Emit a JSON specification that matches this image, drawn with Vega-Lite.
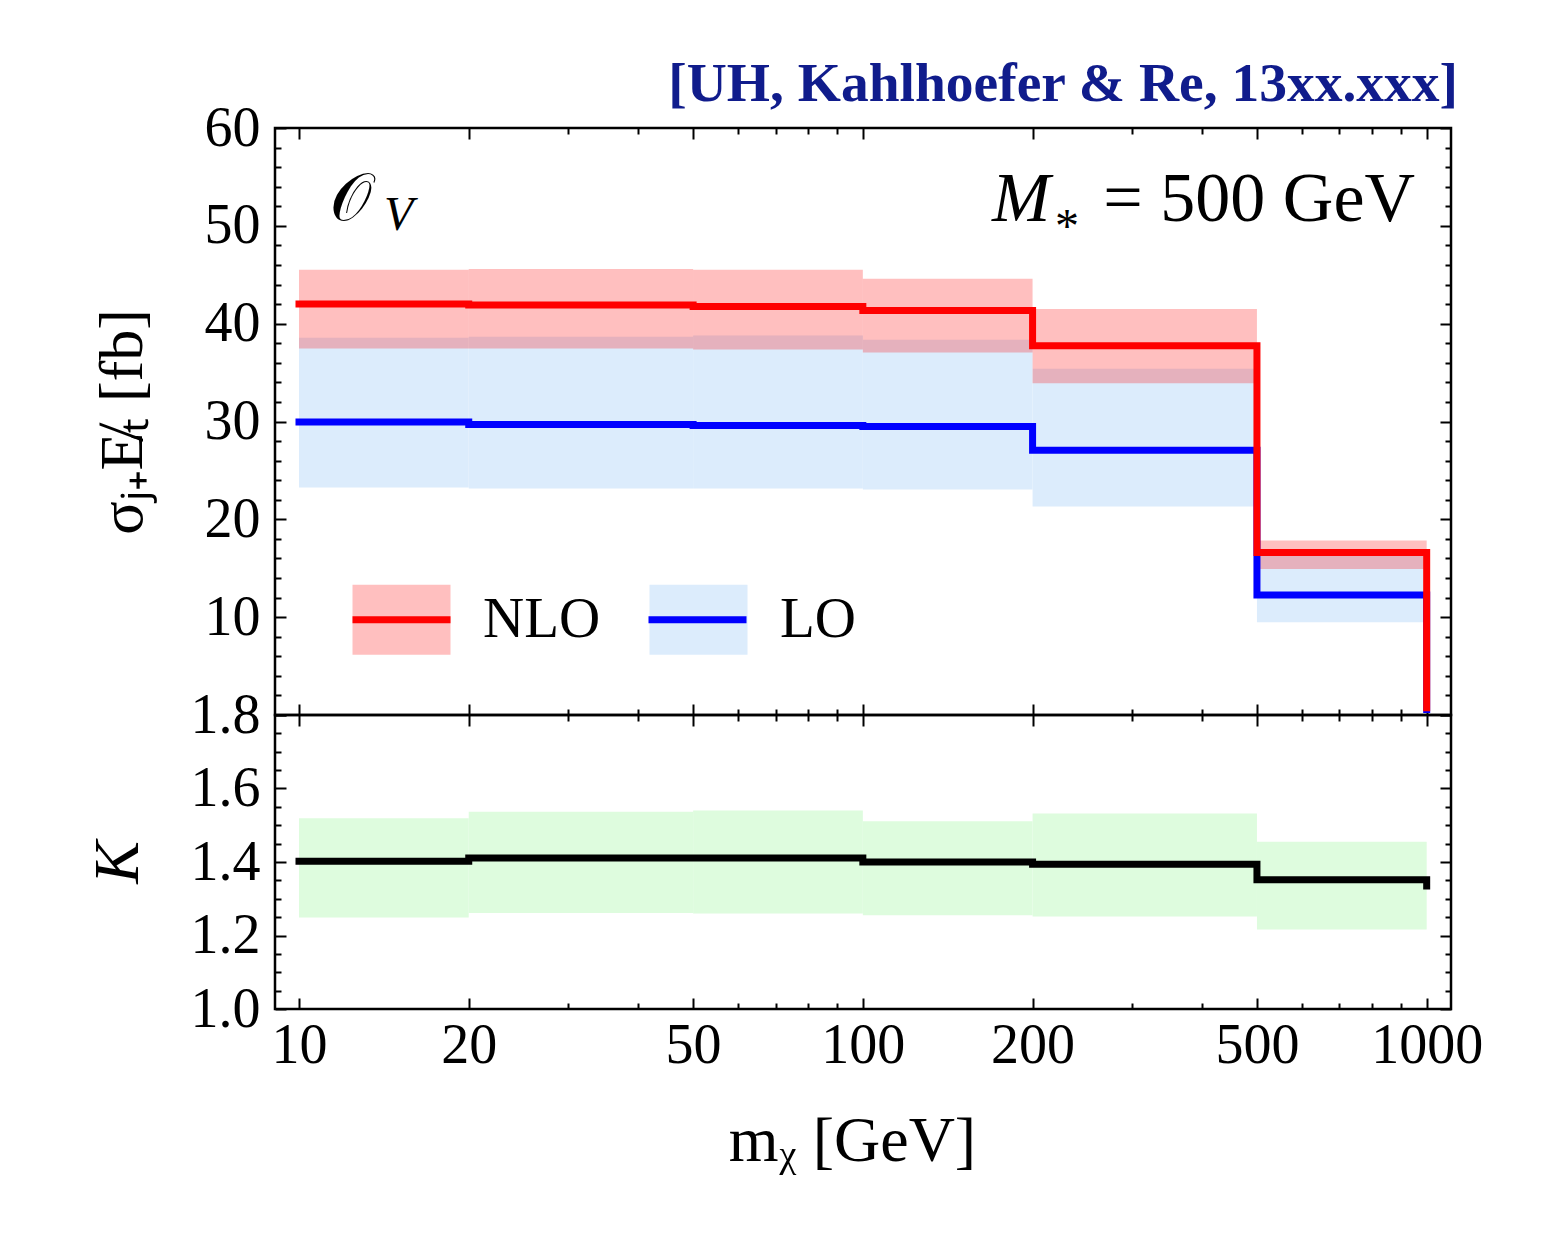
{
  "$schema": "https://vega.github.io/schema/vega-lite/v6.json",
  "background": "white",
  "padding": {"left": 84, "top": 57, "right": 20, "bottom": 20},
  "title": {"text": "[UH, Kahlhoefer & Re, 13xx.xxx]", "anchor": "end", "frame": "group", "font": "Liberation Serif", "fontSize": 55.5, "fontWeight": "bold", "color": "#101c8c", "offset": -14, "dx": 7},
  "datasets": {
    "bands": [
      {"band": "LO", "lo": 10, "hi": 20, "ymin": 23.26, "ymax": 38.55},
      {"band": "LO", "lo": 20, "hi": 50, "ymin": 23.16, "ymax": 38.65},
      {"band": "LO", "lo": 50, "hi": 100, "ymin": 23.16, "ymax": 38.8},
      {"band": "LO", "lo": 100, "hi": 200, "ymin": 23.06, "ymax": 38.35},
      {"band": "LO", "lo": 200, "hi": 500, "ymin": 21.3, "ymax": 35.4},
      {"band": "LO", "lo": 500, "hi": 1000, "ymin": 9.48, "ymax": 16.4},
      {"band": "NLO", "lo": 10, "hi": 20, "ymin": 37.45, "ymax": 45.5},
      {"band": "NLO", "lo": 20, "hi": 50, "ymin": 37.45, "ymax": 45.6},
      {"band": "NLO", "lo": 50, "hi": 100, "ymin": 37.35, "ymax": 45.5},
      {"band": "NLO", "lo": 100, "hi": 200, "ymin": 37.05, "ymax": 44.6},
      {"band": "NLO", "lo": 200, "hi": 500, "ymin": 33.9, "ymax": 41.5},
      {"band": "NLO", "lo": 500, "hi": 1000, "ymin": 14.93, "ymax": 17.84}
    ],
    "xsec": [
      {"order": "LO", "m": 10, "sigma": 29.95},
      {"order": "LO", "m": 20, "sigma": 29.7},
      {"order": "LO", "m": 50, "sigma": 29.6},
      {"order": "LO", "m": 100, "sigma": 29.5},
      {"order": "LO", "m": 200, "sigma": 27.05},
      {"order": "LO", "m": 500, "sigma": 12.27},
      {"order": "LO", "m": 1000, "sigma": 0.55},
      {"order": "NLO", "m": 10, "sigma": 42.0},
      {"order": "NLO", "m": 20, "sigma": 41.9},
      {"order": "NLO", "m": 50, "sigma": 41.75},
      {"order": "NLO", "m": 100, "sigma": 41.35},
      {"order": "NLO", "m": 200, "sigma": 37.75},
      {"order": "NLO", "m": 500, "sigma": 16.6},
      {"order": "NLO", "m": 1000, "sigma": 0.75}
    ],
    "kbands": [
      {"lo": 10, "hi": 20, "kmin": 1.249, "kmax": 1.519},
      {"lo": 20, "hi": 50, "kmin": 1.261, "kmax": 1.537},
      {"lo": 50, "hi": 100, "kmin": 1.26, "kmax": 1.54},
      {"lo": 100, "hi": 200, "kmin": 1.255, "kmax": 1.511},
      {"lo": 200, "hi": 500, "kmin": 1.252, "kmax": 1.532},
      {"lo": 500, "hi": 1000, "kmin": 1.216, "kmax": 1.455}
    ],
    "kfactor": [
      {"m": 10, "K": 1.402},
      {"m": 20, "K": 1.411},
      {"m": 50, "K": 1.411},
      {"m": 100, "K": 1.4},
      {"m": 200, "K": 1.394},
      {"m": 500, "K": 1.352},
      {"m": 1000, "K": 1.335}
    ]
  },
  "spacing": 0,
  "bounds": "flush",
  "vconcat": [
    {
      "width": 1176,
      "height": 587,
      "layer": [
        {
          "data": {"name": "bands"},
          "mark": {"type": "rect"},
          "encoding": {
            "x": {"field": "lo", "type": "quantitative", "scale": {"type": "log", "domain": [9.0663, 1104.4], "nice": false},
              "axis": {"orient": "bottom", "values": [10,20,30,40,50,60,70,80,90,100,200,300,400,500,600,700,800,900,1000], "labels": false, "title": null,
                "tickSize": {"condition": {"test": "indexof([10,20,50,100,200,500,1000], datum.value) >= 0", "value": -11}, "value": -6}}},
            "x2": {"field": "hi"},
            "y": {"field": "ymin", "type": "quantitative", "scale": {"domain": [0, 60], "nice": false, "zero": false},
              "axis": {"orient": "left", "values": [0,2,4,6,8,10,12,14,16,18,20,22,24,26,28,30,32,34,36,38,40,42,44,46,48,50,52,54,56,58,60],
                "labelExpr": "datum.value % 10 === 0 && datum.value > 0 ? datum.label : ''", "labelOverlap": false,
                "tickSize": {"condition": {"test": "datum.value % 10 === 0", "value": -11}, "value": -6},
                "labelPadding": 26, "title": "σⱼ₊E̸ₜ  [fb]", "titlePadding": 50}},
            "y2": {"field": "ymax"},
            "fill": {"field": "band", "type": "nominal", "sort": ["NLO", "LO"], "scale": {"range": ["rgba(255,0,0,0.25)", "#dcecfc"]},
              "legend": {"title": null, "orient": "none", "legendX": 74, "legendY": 439, "direction": "horizontal", "padding": 0,
                "symbolType": "M-1,-0.714H1V0.714H-1Z", "symbolSize": 9604, "symbolStrokeWidth": 7, "symbolStrokeColor": "transparent", "symbolOpacity": 1,
                "labelFont": "Liberation Serif", "labelFontSize": 57, "labelColor": "black", "labelOffset": 29, "columnPadding": 34}}
          }
        },
        {
          "data": {"name": "xsec"},
          "transform": [{"filter": "datum.order === 'LO'"}],
          "mark": {"type": "line", "interpolate": "step-after", "strokeWidth": 7, "strokeCap": "square", "strokeJoin": "miter"},
          "encoding": {
            "x": {"field": "m", "type": "quantitative", "scale": {"type": "log", "domain": [9.0663, 1104.4], "nice": false},
              "axis": {"orient": "top", "values": [10,20,30,40,50,60,70,80,90,100,200,300,400,500,600,700,800,900,1000], "labels": false, "title": null,
                "tickSize": {"condition": {"test": "indexof([10,20,50,100,200,500,1000], datum.value) >= 0", "value": -11}, "value": -6}}},
            "y": {"field": "sigma", "type": "quantitative", "scale": {"domain": [0, 60], "nice": false, "zero": false},
              "axis": {"orient": "right", "values": [0,2,4,6,8,10,12,14,16,18,20,22,24,26,28,30,32,34,36,38,40,42,44,46,48,50,52,54,56,58,60], "labels": false, "title": null,
                "tickSize": {"condition": {"test": "datum.value % 10 === 0", "value": -11}, "value": -6}}},
            "stroke": {"field": "order", "type": "nominal", "scale": {"domain": ["NLO", "LO"], "range": ["#ff0000", "#0000ff"]},
              "legend": {"title": null, "orient": "none", "legendX": 74, "legendY": 439, "direction": "horizontal", "padding": 0,
                "symbolType": "M-1,0H1", "symbolSize": 9604, "symbolStrokeWidth": 7, "symbolFillColor": "transparent", "symbolOpacity": 1,
                "labelExpr": "''", "labelFont": "Liberation Serif", "labelFontSize": 57, "labelColor": "black", "labelOffset": 29, "columnPadding": 151}}
          }
        },
        {
          "data": {"name": "xsec"},
          "transform": [{"filter": "datum.order === 'NLO'"}],
          "mark": {"type": "line", "interpolate": "step-after", "strokeWidth": 7, "strokeCap": "square", "strokeJoin": "miter"},
          "encoding": {
            "x": {"field": "m", "type": "quantitative", "scale": {"type": "log", "domain": [9.0663, 1104.4], "nice": false}, "axis": null},
            "y": {"field": "sigma", "type": "quantitative", "scale": {"domain": [0, 60], "nice": false, "zero": false}, "axis": null},
            "stroke": {"field": "order", "type": "nominal", "scale": {"domain": ["NLO", "LO"], "range": ["#ff0000", "#0000ff"]}}
          }
        },
        {
          "data": {"values": [{"t": "𝒪"}]},
          "mark": {"type": "text", "align": "left", "baseline": "alphabetic", "font": "DejaVu Serif", "fontSize": 66, "color": "black"},
          "encoding": {
            "x": {"datum": 11.35, "type": "quantitative", "scale": {"type": "log", "domain": [9.0663, 1104.4], "nice": false}, "axis": null},
            "y": {"datum": 50.6, "type": "quantitative", "scale": {"domain": [0, 60], "nice": false, "zero": false}, "axis": null},
            "text": {"field": "t"}
          }
        },
        {
          "data": {"values": [{"t": "V"}]},
          "mark": {"type": "text", "align": "left", "baseline": "alphabetic", "font": "Liberation Serif", "fontStyle": "italic", "fontSize": 48, "color": "black"},
          "encoding": {
            "x": {"datum": 14.15, "type": "quantitative", "scale": {"type": "log", "domain": [9.0663, 1104.4], "nice": false}, "axis": null},
            "y": {"datum": 49.57, "type": "quantitative", "scale": {"domain": [0, 60], "nice": false, "zero": false}, "axis": null},
            "text": {"field": "t"}
          }
        },
        {
          "data": {"values": [{"t": "M"}]},
          "mark": {"type": "text", "align": "left", "baseline": "alphabetic", "font": "Liberation Serif", "fontStyle": "italic", "fontSize": 70, "color": "black"},
          "encoding": {
            "x": {"datum": 169.4, "type": "quantitative", "scale": {"type": "log", "domain": [9.0663, 1104.4], "nice": false}, "axis": null},
            "y": {"datum": 50.49, "type": "quantitative", "scale": {"domain": [0, 60], "nice": false, "zero": false}, "axis": null},
            "text": {"field": "t"}
          }
        },
        {
          "data": {"values": [{"t": "*"}]},
          "mark": {"type": "text", "align": "left", "baseline": "alphabetic", "font": "Liberation Serif", "fontSize": 48, "color": "black"},
          "encoding": {
            "x": {"datum": 219.2, "type": "quantitative", "scale": {"type": "log", "domain": [9.0663, 1104.4], "nice": false}, "axis": null},
            "y": {"datum": 48.35, "type": "quantitative", "scale": {"domain": [0, 60], "nice": false, "zero": false}, "axis": null},
            "text": {"field": "t"}
          }
        },
        {
          "data": {"values": [{"t": "= 500 GeV"}]},
          "mark": {"type": "text", "align": "right", "baseline": "alphabetic", "font": "Liberation Serif", "fontSize": 70, "color": "black"},
          "encoding": {
            "x": {"datum": 953.5, "type": "quantitative", "scale": {"type": "log", "domain": [9.0663, 1104.4], "nice": false}, "axis": null},
            "y": {"datum": 50.49, "type": "quantitative", "scale": {"domain": [0, 60], "nice": false, "zero": false}, "axis": null},
            "text": {"field": "t"}
          }
        }
      ],
      "resolve": {"axis": {"x": "independent", "y": "independent"}}
    },
    {
      "width": 1176,
      "height": 294,
      "layer": [
        {
          "data": {"name": "kbands"},
          "mark": {"type": "rect", "fill": "#defcde"},
          "encoding": {
            "x": {"field": "lo", "type": "quantitative", "scale": {"type": "log", "domain": [9.0663, 1104.4], "nice": false},
              "axis": {"orient": "bottom", "values": [10,20,30,40,50,60,70,80,90,100,200,300,400,500,600,700,800,900,1000],
                "labelExpr": "indexof([10,20,50,100,200,500,1000], datum.value) >= 0 ? format(datum.value, 'd') : ''", "labelOverlap": false, "labelFlush": false,
                "tickSize": {"condition": {"test": "indexof([10,20,50,100,200,500,1000], datum.value) >= 0", "value": -11}, "value": -6},
                "labelPadding": 20, "title": "mᵪ [GeV]", "titleFontSize": 64, "titlePadding": 31, "titleX": 577}},
            "x2": {"field": "hi"},
            "y": {"field": "kmin", "type": "quantitative", "scale": {"domain": [1.0, 1.8], "nice": false, "zero": false},
              "axis": {"orient": "left", "values": [1.0,1.05,1.1,1.15,1.2,1.25,1.3,1.35,1.4,1.45,1.5,1.55,1.6,1.65,1.7,1.75,1.8],
                "labelExpr": "abs(datum.value * 5 - round(datum.value * 5)) < 0.01 ? format(datum.value, '.1f') : ''", "labelOverlap": false, "labelFlush": false,
                "tickSize": {"condition": {"test": "abs(datum.value * 5 - round(datum.value * 5)) < 0.01", "value": -11}, "value": -6},
                "labelPadding": 26, "title": "K", "titleFontStyle": "italic", "titleFontSize": 64, "titlePadding": 40}},
            "y2": {"field": "kmax"}
          }
        },
        {
          "data": {"name": "kfactor"},
          "mark": {"type": "line", "interpolate": "step-after", "color": "black", "strokeWidth": 7, "strokeCap": "square", "strokeJoin": "miter"},
          "encoding": {
            "x": {"field": "m", "type": "quantitative", "scale": {"type": "log", "domain": [9.0663, 1104.4], "nice": false},
              "axis": {"orient": "top", "values": [10,20,30,40,50,60,70,80,90,100,200,300,400,500,600,700,800,900,1000], "labels": false, "title": null,
                "tickSize": {"condition": {"test": "indexof([10,20,50,100,200,500,1000], datum.value) >= 0", "value": -11}, "value": -6}}},
            "y": {"field": "K", "type": "quantitative", "scale": {"domain": [1.0, 1.8], "nice": false, "zero": false},
              "axis": {"orient": "right", "values": [1.0,1.05,1.1,1.15,1.2,1.25,1.3,1.35,1.4,1.45,1.5,1.55,1.6,1.65,1.7,1.75,1.8], "labels": false, "title": null,
                "tickSize": {"condition": {"test": "abs(datum.value * 5 - round(datum.value * 5)) < 0.01", "value": -11}, "value": -6}}}
          }
        }
      ],
      "resolve": {"axis": {"x": "independent", "y": "independent"}}
    }
  ],
  "config": {
    "view": {"stroke": "black", "strokeWidth": 2.5},
    "axis": {"domain": false, "grid": false, "tickColor": "black", "tickWidth": 2, "labelFont": "Liberation Serif", "labelFontSize": 56, "labelColor": "black",
      "titleFont": "Liberation Serif", "titleFontSize": 62, "titleColor": "black", "titleFontWeight": "normal"}
  }
}
